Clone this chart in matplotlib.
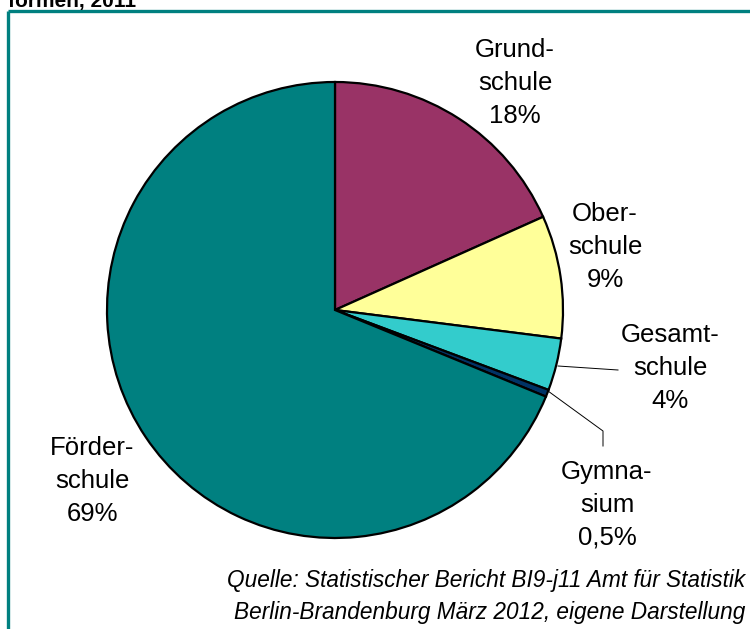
import matplotlib.pyplot as plt

plt.rcParams["font.family"] = ["Liberation Sans", "DejaVu Sans"]

# Anteile
schulformen = ["Grundschule", "Oberschule", "Gesamtschule", "Gymnasium", "Förderschule"]
anteile = [18.3, 8.7, 3.7, 0.5, 68.8]
beschriftungen = ["Grund-\nschule\n18%", "Ober-\nschule\n9%", "Gesamt-\nschule\n4%",
                  "Gymna-\nsium\n0,5%", "Förder-\nschule\n69%"]
farben = ["#993366", "#FFFF99", "#33CCCC", "#003366", "#008080"]

W, H = 750, 629


def py(y):
    # Pixelzeile von oben -> Datenkoordinate
    return H - y


fig = plt.figure(figsize=(7.5, 6.29), dpi=100)
ax = fig.add_axes([0, 0, 1, 1])

ax.pie(anteile, colors=farben, startangle=90, counterclock=False,
       center=(335, py(310)), radius=228,
       wedgeprops={"edgecolor": "black", "linewidth": 1.6})

ax.set_xlim(0, W)
ax.set_ylim(0, H)
ax.set_aspect("equal")
ax.axis("off")

# Beschriftungen
positionen = [(515, 83), (605, 247), (670, 368), (607, 505), (92, 481)]
for text, (x, y) in zip(beschriftungen, positionen):
    ax.text(x, py(y), text, ha="center", va="center", fontsize=18.5,
            linespacing=1.45)

# Führungslinien
ax.plot([558, 618], [py(366), py(370)], color="black", lw=0.7)
ax.plot([548, 603, 603], [py(391), py(431), py(446)], color="black", lw=0.7)

# Rahmen
ax.plot([8, W + 5], [py(11), py(11)], color="#008080", lw=2.4, solid_capstyle="butt")
ax.plot([8, 8], [py(11), -5], color="#008080", lw=2.4, solid_capstyle="butt")

# abgeschnittener Titel
ax.text(8, py(2), "formen, 2011", ha="left", va="center", fontsize=15,
        fontweight="bold")

# Quelle
ax.text(745, py(581), "Quelle: Statistischer Bericht BI9-j11 Amt für Statistik",
        ha="right", va="center", fontsize=16.3, style="italic")
ax.text(745, py(613), "Berlin-Brandenburg März 2012, eigene Darstellung",
        ha="right", va="center", fontsize=16.3, style="italic")

fig.savefig("out.png", dpi=100)
